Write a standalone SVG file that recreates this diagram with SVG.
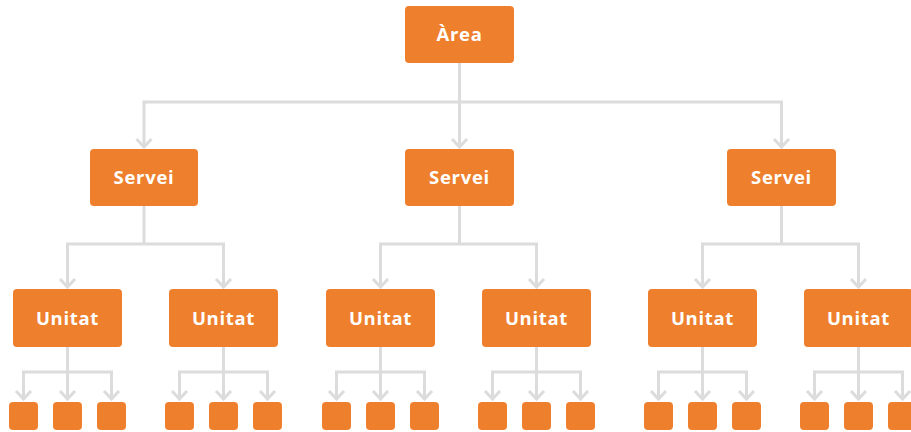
<svg xmlns="http://www.w3.org/2000/svg" width="911" height="432" viewBox="0 0 911 432">
<defs>
<style>
.box{fill:#EE7F2D}
.lbl{fill:#ffffff;font-family:"Open Sans","DejaVu Sans",sans-serif;font-weight:700;font-size:18.5px;text-anchor:middle;letter-spacing:0.7px}
.ln{fill:none;stroke:#DCDCDC;stroke-width:3;stroke-linejoin:miter}
</style>
<marker id="ah" markerUnits="userSpaceOnUse" markerWidth="14" markerHeight="20" refX="10" refY="10" orient="auto-start-reverse" viewBox="0 0 14 20">
<path d="M2 2.5 L10 10 L2 17.5" fill="none" stroke="#DCDCDC" stroke-width="3"/>
</marker>
</defs>
<rect width="911" height="432" fill="#ffffff"/>
<g id="connectors" class="ln">
<path d="M459.5 63 V102"/>
<path d="M144 147 V102 H781.5 V147" marker-start="url(#ah)" marker-end="url(#ah)"/>
<path d="M459.5 102 V147" marker-end="url(#ah)"/>
<path d="M144 206 V244"/>
<path d="M67.5 287 V244 H223.5 V287" marker-start="url(#ah)" marker-end="url(#ah)"/>
<path d="M459.5 206 V244"/>
<path d="M380.5 287 V244 H536.5 V287" marker-start="url(#ah)" marker-end="url(#ah)"/>
<path d="M781.5 206 V244"/>
<path d="M702.5 287 V244 H858.5 V287" marker-start="url(#ah)" marker-end="url(#ah)"/>
<path d="M67.5 347 V399" marker-end="url(#ah)"/>
<path d="M23.5 399 V372 H111.5 V399" marker-start="url(#ah)" marker-end="url(#ah)"/>
<path d="M223.5 347 V399" marker-end="url(#ah)"/>
<path d="M179.5 399 V372 H267.5 V399" marker-start="url(#ah)" marker-end="url(#ah)"/>
<path d="M380.5 347 V399" marker-end="url(#ah)"/>
<path d="M336.5 399 V372 H424.5 V399" marker-start="url(#ah)" marker-end="url(#ah)"/>
<path d="M536.5 347 V399" marker-end="url(#ah)"/>
<path d="M492.5 399 V372 H580.5 V399" marker-start="url(#ah)" marker-end="url(#ah)"/>
<path d="M702.5 347 V399" marker-end="url(#ah)"/>
<path d="M658.5 399 V372 H746.5 V399" marker-start="url(#ah)" marker-end="url(#ah)"/>
<path d="M858.5 347 V399" marker-end="url(#ah)"/>
<path d="M814.5 399 V372 H902.5 V399" marker-start="url(#ah)" marker-end="url(#ah)"/>
</g>
<g id="area"><rect class="box" x="405" y="6" width="109" height="57" rx="4"/><text class="lbl" x="459.5" y="41">Àrea</text></g>
<g id="servei1"><rect class="box" x="90" y="149" width="108" height="57" rx="4"/><text class="lbl" x="144" y="184">Servei</text></g>
<g id="servei2"><rect class="box" x="405" y="149" width="109" height="57" rx="4"/><text class="lbl" x="459.5" y="184">Servei</text></g>
<g id="servei3"><rect class="box" x="727" y="149" width="109" height="57" rx="4"/><text class="lbl" x="781.5" y="184">Servei</text></g>
<g id="unitat1"><rect class="box" x="13" y="289" width="109" height="58" rx="4"/><text class="lbl" x="67.5" y="325">Unitat</text></g>
<g id="unitat2"><rect class="box" x="169" y="289" width="109" height="58" rx="4"/><text class="lbl" x="223.5" y="325">Unitat</text></g>
<g id="unitat3"><rect class="box" x="326" y="289" width="109" height="58" rx="4"/><text class="lbl" x="380.5" y="325">Unitat</text></g>
<g id="unitat4"><rect class="box" x="482" y="289" width="109" height="58" rx="4"/><text class="lbl" x="536.5" y="325">Unitat</text></g>
<g id="unitat5"><rect class="box" x="648" y="289" width="109" height="58" rx="4"/><text class="lbl" x="702.5" y="325">Unitat</text></g>
<g id="unitat6"><rect class="box" x="804" y="289" width="109" height="58" rx="4"/><text class="lbl" x="858.5" y="325">Unitat</text></g>
<g id="leaf1a"><rect class="box" x="9" y="402" width="29" height="28" rx="4"/></g>
<g id="leaf1b"><rect class="box" x="53" y="402" width="29" height="28" rx="4"/></g>
<g id="leaf1c"><rect class="box" x="97" y="402" width="29" height="28" rx="4"/></g>
<g id="leaf2a"><rect class="box" x="165" y="402" width="29" height="28" rx="4"/></g>
<g id="leaf2b"><rect class="box" x="209" y="402" width="29" height="28" rx="4"/></g>
<g id="leaf2c"><rect class="box" x="253" y="402" width="29" height="28" rx="4"/></g>
<g id="leaf3a"><rect class="box" x="322" y="402" width="29" height="28" rx="4"/></g>
<g id="leaf3b"><rect class="box" x="366" y="402" width="29" height="28" rx="4"/></g>
<g id="leaf3c"><rect class="box" x="410" y="402" width="29" height="28" rx="4"/></g>
<g id="leaf4a"><rect class="box" x="478" y="402" width="29" height="28" rx="4"/></g>
<g id="leaf4b"><rect class="box" x="522" y="402" width="29" height="28" rx="4"/></g>
<g id="leaf4c"><rect class="box" x="566" y="402" width="29" height="28" rx="4"/></g>
<g id="leaf5a"><rect class="box" x="644" y="402" width="29" height="28" rx="4"/></g>
<g id="leaf5b"><rect class="box" x="688" y="402" width="29" height="28" rx="4"/></g>
<g id="leaf5c"><rect class="box" x="732" y="402" width="29" height="28" rx="4"/></g>
<g id="leaf6a"><rect class="box" x="800" y="402" width="29" height="28" rx="4"/></g>
<g id="leaf6b"><rect class="box" x="844" y="402" width="29" height="28" rx="4"/></g>
<g id="leaf6c"><rect class="box" x="888" y="402" width="29" height="28" rx="4"/></g>
</svg>
